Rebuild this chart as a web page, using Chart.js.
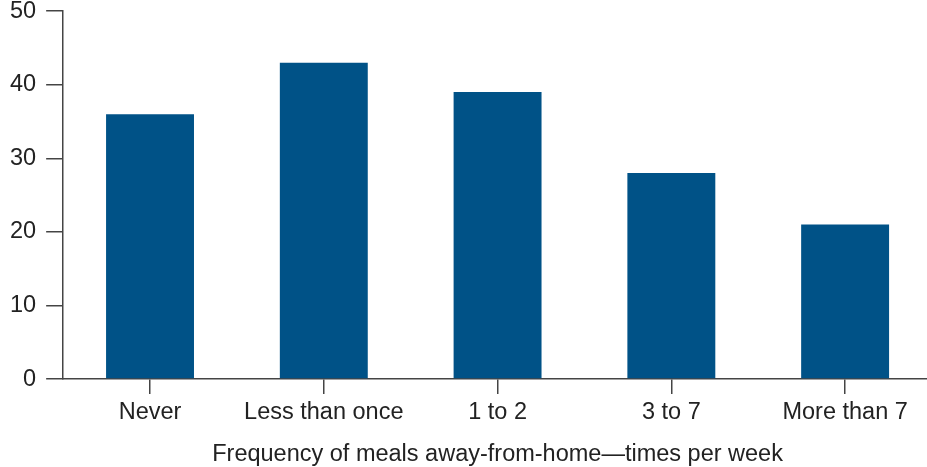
<!DOCTYPE html>
<html>
<head>
<meta charset="utf-8">
<script src="https://cdn.jsdelivr.net/npm/chart.js@4/dist/chart.umd.min.js"></script>
<style>
  html, body { margin: 0; padding: 0; background: #fff; overflow: hidden; }
  #wrap { width: 940px; height: 467px; }
</style>
</head>
<body>
<div id="wrap"><canvas id="barChart" width="940" height="467"></canvas></div>
<script>
// frequency of meals away from home, percent of respondents
var categories = ['Never', 'Less than once', '1 to 2', '3 to 7', 'More than 7'];
var values = [36, 43, 39, 28, 21];
var yTicks = [0, 10, 20, 30, 40, 50];

var axisColor = '#444';
var textColor = '#222';
var fontFamily = '"Liberation Sans", Arial, Helvetica, sans-serif';

var ctxBar = document.getElementById('barChart');
var barChart = new Chart(ctxBar, {
    type: 'bar',
    data: {
        labels: categories,
        datasets: [{
            data: values,
            backgroundColor: '#005287',
            borderWidth: 0,
            barPercentage: 0.506,
            categoryPercentage: 1
        }]
    },
    options: {
        responsive: false,
        animation: false,
        layout: { padding: { top: 6, right: 8, left: 0, bottom: 0 } },
        plugins: {
            legend: { display: false },
            tooltip: { enabled: false }
        },
        scales: {
            x: {
                offset: true,
                grid: {
                    offset: false,
                    drawOnChartArea: false,
                    drawTicks: true,
                    tickLength: 15,
                    color: axisColor,
                    lineWidth: 1.5
                },
                border: { color: axisColor, width: 1.5 },
                ticks: {
                    color: textColor,
                    font: { family: fontFamily, size: 23.5 },
                    padding: 4,
                    maxRotation: 0
                },
                title: {
                    display: true,
                    text: 'Frequency of meals away-from-home\u2014times per week',
                    color: textColor,
                    font: { family: fontFamily, size: 23.5, lineHeight: 1.03 },
                    padding: { top: 12.5, bottom: 0 }
                }
            },
            y: {
                min: 0,
                max: 50,
                afterBuildTicks: function (axis) {
                    axis.ticks = yTicks.map(function (v) { return { value: v }; });
                },
                grid: {
                    drawOnChartArea: false,
                    drawTicks: true,
                    tickLength: 17,
                    color: axisColor,
                    lineWidth: 1.5
                },
                border: { color: axisColor, width: 1.5 },
                ticks: {
                    color: textColor,
                    // small line height so the top label does not push the plot down
                    font: { family: fontFamily, size: 23.5, lineHeight: 0.1 },
                    padding: 10
                }
            }
        }
    }
});
</script>
</body>
</html>
